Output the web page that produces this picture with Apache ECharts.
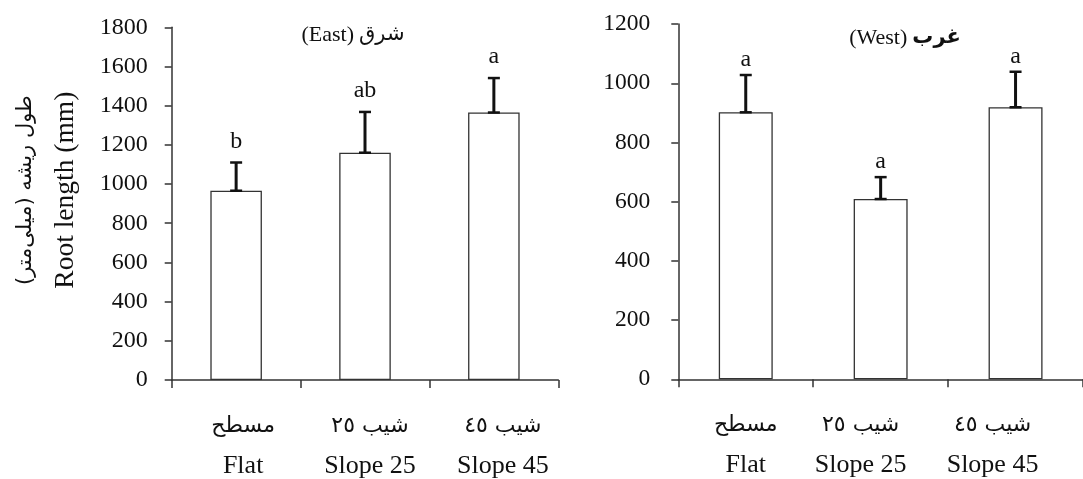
<!DOCTYPE html>
<html>
<head>
<meta charset="utf-8">
<script src="https://cdn.jsdelivr.net/npm/echarts@6/dist/echarts.min.js"></script>
<style>html,body{margin:0;padding:0;background:#fff}#c{width:1083px;height:479px}</style>
</head>
<body>
<div id="c"></div>
<script>
// ---- data ----
const categoriesEn = ['Flat', 'Slope 25', 'Slope 45'];
const categoriesFa = ['مسطح', 'شیب ٢٥', 'شیب ٤٥'];
const eastMean = [966, 1160, 1365];
const eastErr = [144, 208, 176];
const eastLetters = ['b', 'ab', 'a'];
const westMean = [902, 609, 919];
const westErr = [126, 74, 120];
const westLetters = ['a', 'a', 'a'];
const eastAxisMax = 1800;
const westAxisMax = 1200;
const tickStep = 200;

// ---- style ----
const EN = "'Liberation Serif', 'Times New Roman', serif";
const AR = "'DejaVu Sans', 'Liberation Serif', serif";
const INK = '#111';
const AXIS = '#333';
const eastShift = [7, 5, 9];
const westShift = [0, -20, -23];

function mkRich(shifts) {
  const rich = {};
  shifts.forEach((s, i) => {
    const pad = s >= 0 ? [0, 0, 0, 2 * s] : [0, -2 * s, 0, 0];
    rich['a' + i] = {fontSize: 22, fontFamily: AR, lineHeight: 40, color: INK, padding: pad};
    rich['e' + i] = {fontSize: 26, fontFamily: EN, lineHeight: 40, color: INK, padding: pad};
  });
  return rich;
}

function xAxisCfg(gridIndex, shifts) {
  return {
    type: 'category', gridIndex, data: categoriesEn,
    axisLine: {show: true, lineStyle: {color: AXIS, width: 1.5}},
    axisTick: {show: true, length: 8, lineStyle: {color: AXIS, width: 1.5}},
    axisLabel: {
      interval: 0, margin: 26,
      formatter: (v, i) => `{a${i}|${categoriesFa[i]}}\n{e${i}|${v}}`,
      rich: mkRich(shifts)
    }
  };
}
function yAxisCfg(gridIndex, max, margin, size) {
  return {
    type: 'value', gridIndex, min: 0, max, interval: tickStep,
    splitLine: {show: false},
    axisLine: {show: true, lineStyle: {color: AXIS, width: 1.5}},
    axisTick: {show: true, length: 7, lineStyle: {color: AXIS, width: 1.5}},
    axisLabel: {fontSize: size, fontFamily: EN, color: INK, margin, formatter: v => String(v)}
  };
}
function errSeries(idx, means, errs, letters, gap) {
  return {
    type: 'custom', xAxisIndex: idx, yAxisIndex: idx, z: 5,
    data: means.map((m, i) => [i, m, m + errs[i]]),
    renderItem: (params, api) => {
      const x = api.value(0);
      const lo = api.coord([x, api.value(1)]);
      const hi = api.coord([x, api.value(2)]);
      const cw = 6;
      return {
        type: 'group', children: [
          {type: 'line', shape: {x1: lo[0], y1: lo[1], x2: hi[0], y2: hi[1]}, style: {stroke: INK, lineWidth: 3}},
          {type: 'line', shape: {x1: hi[0] - cw, y1: hi[1], x2: hi[0] + cw, y2: hi[1]}, style: {stroke: INK, lineWidth: 2.5}},
          {type: 'line', shape: {x1: lo[0] - cw, y1: lo[1], x2: lo[0] + cw, y2: lo[1]}, style: {stroke: INK, lineWidth: 2.5}},
          {type: 'text', style: {text: letters[params.dataIndex], x: hi[0], y: hi[1] - gap, align: 'center', verticalAlign: 'bottom', fontSize: 24, fontFamily: EN, fill: INK}}
        ]
      };
    }
  };
}
function barSeries(idx, means) {
  return {
    type: 'bar', xAxisIndex: idx, yAxisIndex: idx, barWidth: '40%', data: means,
    itemStyle: {color: '#fff', borderColor: AXIS, borderWidth: 1.3}
  };
}

const chart = echarts.init(document.getElementById('c'), null, {renderer: 'canvas'});
chart.setOption({
  animation: false,
  backgroundColor: '#fff',
  title: [
    {text: '{n|(East)} {a|شرق}', left: 348, top: 19, textAlign: 'center',
     textStyle: {fontWeight: 'normal', rich: {n: {fontSize: 22, fontFamily: EN, color: INK, fontWeight: 'normal'}, a: {fontSize: 21, fontFamily: AR, color: INK, fontWeight: 'normal'}}}},
    {text: '{n|(West)} {a|غرب}', left: 900, top: 22, textAlign: 'center',
     textStyle: {fontWeight: 'normal', rich: {n: {fontSize: 22, fontFamily: EN, color: INK, fontWeight: 'normal'}, a: {fontSize: 21, fontFamily: AR, fontWeight: 'bold', color: INK}}}}
  ],
  grid: [
    {left: 171.7, right: 524.7, top: 27.3, bottom: 98},
    {left: 678.3, right: -41.8, top: 24.1, bottom: 99.7}
  ],
  xAxis: [xAxisCfg(0, eastShift), xAxisCfg(1, westShift)],
  yAxis: [
    Object.assign(yAxisCfg(0, eastAxisMax, 24, 24), {
      name: '{ar|\u202Bطول ریشه (میلی‌متر)\u202C}\n{en|Root length (mm)}',
      nameLocation: 'middle', nameGap: 85,
      nameTextStyle: {padding: [0, 0, 0, 27], rich: {
        ar: {fontSize: 21, fontFamily: AR, color: INK, lineHeight: 41},
        en: {fontSize: 27.5, fontFamily: EN, color: INK, lineHeight: 41}
      }}
    }),
    yAxisCfg(1, westAxisMax, 28, 23.5)
  ],
  series: [
    barSeries(0, eastMean), errSeries(0, eastMean, eastErr, eastLetters, 9),
    barSeries(1, westMean), errSeries(1, westMean, westErr, westLetters, 3)
  ]
});
</script>
</body>
</html>
